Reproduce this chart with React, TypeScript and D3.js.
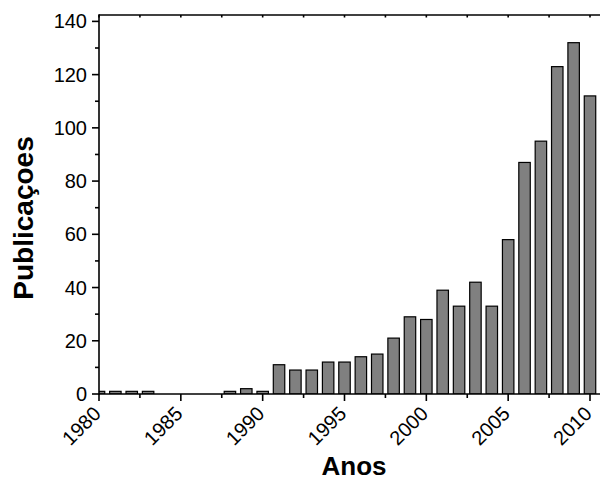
import React from "react";
import * as d3 from "d3";

const years: number[] = [
  1980, 1981, 1982, 1983, 1984, 1985, 1986, 1987, 1988, 1989, 1990,
  1991, 1992, 1993, 1994, 1995, 1996, 1997, 1998, 1999, 2000,
  2001, 2002, 2003, 2004, 2005, 2006, 2007, 2008, 2009, 2010,
];
const publications: number[] = [
  1, 1, 1, 1, 0, 0, 0, 0, 1, 2, 1,
  11, 9, 9, 12, 12, 14, 15, 21, 29, 28,
  39, 33, 42, 33, 58, 87, 95, 123, 132, 112,
];
const xMajorTicks: number[] = [1980, 1985, 1990, 1995, 2000, 2005, 2010];
const xMinorTicks: number[] = [1982.5, 1987.5, 1992.5, 1997.5, 2002.5, 2007.5];
const yMajorTicks: number[] = [0, 20, 40, 60, 80, 100, 120, 140];
const yMinorTicks: number[] = [10, 30, 50, 70, 90, 110, 130];
const xTitle = "Anos";
const yTitle = "Publicaçoes";

const W = 600;
const H = 481;
const left = 99;
const right = 600;
const top = 15;
const bottom = 394;

export default function App() {
  const x = d3.scaleLinear().domain([1980, 2010]).range([left, 590]);
  const y = d3.scaleLinear().domain([0, 142.4]).range([bottom, top]);
  const step = x(1981) - x(1980);
  const bw = step * 0.7;
  const font = "'Liberation Sans', Arial, Helvetica, sans-serif";
  const data = years.map((yr, i) => ({ yr, v: publications[i] }));

  return (
    <svg
      width={W}
      height={H}
      style={{ position: "absolute", left: 0, top: 0, background: "#fff" }}
      fontFamily={font}
    >
      <defs>
        <clipPath id="plotclip">
          <rect x={left} y={top} width={right - left} height={bottom - top} />
        </clipPath>
      </defs>
      <g clipPath="url(#plotclip)">
        {data
          .filter((d) => d.v > 0)
          .map((d) => (
            <rect
              key={d.yr}
              x={x(d.yr) - bw / 2}
              y={y(d.v)}
              width={bw}
              height={y(0) - y(d.v)}
              fill="#808080"
              stroke="#000"
              strokeWidth={1.2}
            />
          ))}
      </g>
      {/* axes lines */}
      <line x1={left} x2={right} y1={bottom} y2={bottom} stroke="#000" strokeWidth={1.6} />
      <line x1={left} x2={right} y1={top} y2={top} stroke="#000" strokeWidth={1.6} />
      <line x1={left} x2={left} y1={top - 0.8} y2={bottom + 0.8} stroke="#000" strokeWidth={1.6} />
      {/* x ticks bottom */}
      {xMajorTicks.map((t) => (
        <g key={"xM" + t}>
          <line x1={x(t)} x2={x(t)} y1={bottom} y2={bottom + 7} stroke="#000" strokeWidth={1.6} />
          <line x1={x(t)} x2={x(t)} y1={top} y2={top + 2.5} stroke="#000" strokeWidth={1.6} />
          <text
            transform={`translate(${x(t) + 3},${bottom + 21}) rotate(-45)`}
            textAnchor="end"
            fontSize={20}
            fill="#000"
          >
            {t}
          </text>
        </g>
      ))}
      {xMinorTicks.map((t) => (
        <g key={"xm" + t}>
          <line x1={x(t)} x2={x(t)} y1={bottom} y2={bottom + 4} stroke="#000" strokeWidth={1.6} />
          <line x1={x(t)} x2={x(t)} y1={top} y2={top + 2.5} stroke="#000" strokeWidth={1.6} />
        </g>
      ))}
      {/* y ticks */}
      {yMajorTicks.map((t) => (
        <g key={"yM" + t}>
          <line x1={left - 7} x2={left} y1={y(t)} y2={y(t)} stroke="#000" strokeWidth={1.6} />
          <text
            x={left - 12}
            y={y(t)}
            dy="0.35em"
            textAnchor="end"
            fontSize={20}
            fill="#000"
          >
            {t}
          </text>
        </g>
      ))}
      {yMinorTicks.map((t) => (
        <line key={"ym" + t} x1={left - 4} x2={left} y1={y(t)} y2={y(t)} stroke="#000" strokeWidth={1.6} />
      ))}
      {/* titles */}
      <text x={354} y={475} textAnchor="middle" fontSize={26} fontWeight="bold" fill="#000">
        {xTitle}
      </text>
      <text
        transform={`translate(33,${218}) rotate(-90)`}
        textAnchor="middle"
        fontSize={28}
        fontWeight="bold"
        fill="#000"
      >
        {yTitle}
      </text>
    </svg>
  );
}
